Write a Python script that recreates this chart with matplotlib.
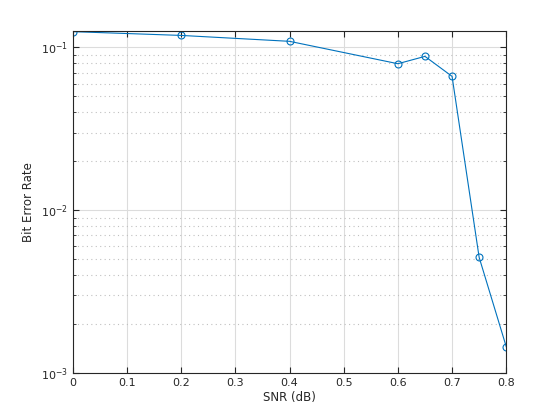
import matplotlib
matplotlib.use("Agg")
import matplotlib.pyplot as plt
from matplotlib.ticker import LogLocator, NullFormatter

snr = [0, 0.2, 0.4, 0.6, 0.65, 0.7, 0.75, 0.8]
ber = [0.125, 0.1185, 0.109, 0.0794, 0.0881, 0.0664, 0.00513, 0.00145]
xticks = [0, 0.1, 0.2, 0.3, 0.4, 0.5, 0.6, 0.7, 0.8]

fig = plt.figure(figsize=(5.6, 4.2), dpi=100)
ax = fig.add_axes([0.13, 0.112, 0.774, 0.814])

ax.semilogy(snr, ber, color='#0072BD', linewidth=0.8, marker='o',
            markersize=5, markerfacecolor='none', markeredgewidth=0.8)

ax.set_xlim(0, 0.8)
ax.set_ylim(1e-3, 0.126)
ax.set_xticks(xticks)
ax.set_xticklabels([f"{t:g}" for t in xticks])
ax.yaxis.set_minor_locator(LogLocator(base=10, subs=range(2, 10)))
ax.yaxis.set_minor_formatter(NullFormatter())

ax.grid(True, which='major', color='#dcdcdc', linewidth=0.8)
ax.grid(True, which='minor', axis='y', color='#c0c0c0', linestyle=(0, (1, 3)), linewidth=0.8)
ax.set_axisbelow(True)

ax.tick_params(which='both', direction='in', top=True, right=True,
               labelsize=8, colors='#262626')
ax.tick_params(which='major', length=4)
ax.tick_params(which='minor', length=2)
for s in ax.spines.values():
    s.set_color('#262626')
    s.set_linewidth(0.8)

ax.set_xlabel('SNR (dB)', fontsize=8.5, color='#262626', labelpad=2)
ax.set_ylabel('Bit Error Rate', fontsize=8.5, color='#262626', labelpad=4)

fig.savefig('out.png', dpi=100)
